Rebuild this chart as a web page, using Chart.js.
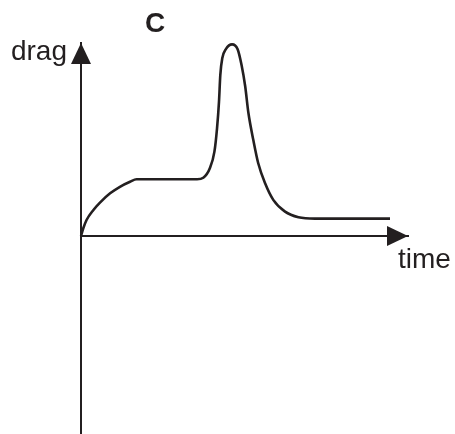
<!DOCTYPE html>
<html>
<head>
<meta charset="utf-8">
<script src="https://cdn.jsdelivr.net/npm/chart.js@4/dist/chart.umd.min.js"></script>
<style>
  html, body { margin: 0; padding: 0; background: #ffffff; }
  #wrap { width: 455px; height: 434px; position: relative; }
</style>
</head>
<body>
<div id="wrap"><canvas id="drag-chart"></canvas></div>
<script>
// curve: time (0..10) vs drag (0 at the time axis, 10 at the arrow tip)
const timeValues = [0, 0.07, 0.17, 0.38, 0.58, 0.89, 1.19, 1.5, 1.7, 3.55, 3.74, 3.94, 4.08, 4.16, 4.22, 4.26, 4.32, 4.43, 4.62, 4.79, 4.91, 5.02, 5.12, 5.27, 5.42, 5.63, 5.88, 6.24, 6.65, 7.16, 9.45];
const dragValues = [0, 0.4, 0.83, 1.35, 1.73, 2.21, 2.55, 2.81, 2.94, 2.94, 3.02, 3.51, 4.37, 5.58, 6.96, 8.34, 9.21, 9.68, 9.93, 9.68, 8.86, 7.77, 6.37, 4.97, 3.77, 2.73, 1.87, 1.26, 0.97, 0.9, 0.9];

const xLabel = 'time';
const yLabel = 'drag';
const panelLabel = 'C';

const ink = '#231f20';
const points = timeValues.map((t, i) => ({ x: t, y: dragValues[i] }));

const sketchAxes = {
  id: 'sketchAxes',
  afterDraw(chart) {
    const { ctx, scales: { x, y } } = chart;
    const x0 = x.getPixelForValue(0);
    const y0 = y.getPixelForValue(0);
    const xEnd = x.getPixelForValue(x.max);
    const yEnd = y.getPixelForValue(y.max);

    ctx.save();
    ctx.fillStyle = ink;

    // arrow heads
    ctx.beginPath();
    ctx.moveTo(x0, yEnd);
    ctx.lineTo(x0 - 10, yEnd + 21);
    ctx.lineTo(x0 + 10, yEnd + 21);
    ctx.closePath();
    ctx.fill();

    ctx.beginPath();
    ctx.moveTo(xEnd, y0);
    ctx.lineTo(xEnd - 21, y0 - 10);
    ctx.lineTo(xEnd - 21, y0 + 10);
    ctx.closePath();
    ctx.fill();

    ctx.font = "28px 'Liberation Sans', Arial, sans-serif";
    ctx.textBaseline = 'alphabetic';
    ctx.textAlign = 'right';
    ctx.fillText(yLabel, x0 - 14, yEnd + 17);
    ctx.textAlign = 'left';
    ctx.fillText(xLabel, xEnd - 10, y0 + 32);

    ctx.font = "bold 28px 'Liberation Sans', Arial, sans-serif";
    ctx.fillText(panelLabel, x0 + 64, yEnd - 11);
    ctx.restore();
  },
};

new Chart(document.getElementById('drag-chart'), {
  type: 'line',
  data: {
    datasets: [
      {
        data: points,
        borderColor: ink,
        borderWidth: 2.6,
        pointRadius: 0,
        fill: false,
        cubicInterpolationMode: 'monotone',
        clip: false,
      },
    ],
  },
  options: {
    responsive: true,
    maintainAspectRatio: false,
    animation: false,
    events: [],
    layout: {
      padding: { left: 81, top: 43, right: 47, bottom: 0 },
    },
    plugins: {
      legend: { display: false },
      tooltip: { enabled: false },
    },
    scales: {
      x: {
        type: 'linear',
        min: 0,
        max: 10,
        position: { y: 0 },
        grid: { display: false },
        ticks: { display: false },
        border: { display: true, color: ink, width: 2 },
      },
      y: {
        type: 'linear',
        min: -10.26,
        max: 10,
        position: { x: 0 },
        grid: { display: false },
        ticks: { display: false },
        border: { display: true, color: ink, width: 2 },
      },
    },
  },
  plugins: [sketchAxes],
});
</script>
</body>
</html>
